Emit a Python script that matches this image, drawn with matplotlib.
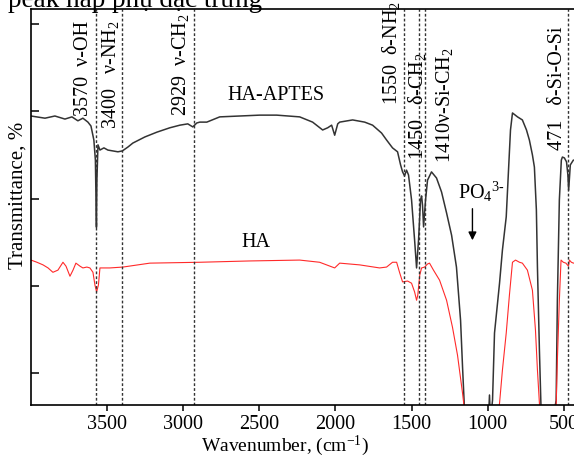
import matplotlib
matplotlib.use("Agg")
import matplotlib.pyplot as plt

plt.rcParams["font.family"] = ["Liberation Serif", "DejaVu Serif"]
plt.rcParams["mathtext.fontset"] = "custom"
plt.rcParams["mathtext.rm"] = "Liberation Serif"
plt.rcParams["mathtext.it"] = "Liberation Serif:italic"

# FTIR spectrum of HA-APTES (wavenumber, cm-1 / transmittance, a.u.)
apt_wn = [4000, 3908, 3843, 3777, 3731, 3692, 3659, 3626, 3606, 3587, 3577,
          3570, 3567, 3560, 3547, 3521, 3495, 3462, 3429, 3400, 3363, 3331,
          3252, 3173, 3088, 3022, 2970, 2937, 2911, 2891, 2845, 2760, 2629,
          2497, 2386, 2235, 2150, 2084, 2051, 2025, 2005, 1985, 1972, 1887,
          1808, 1756, 1697, 1664, 1625, 1592, 1572, 1559, 1546, 1533, 1520,
          1500, 1480, 1467, 1454, 1441, 1434, 1428, 1421, 1408, 1395, 1369,
          1336, 1303, 1270, 1237, 1205, 1178, 1165, 1152, 1100, 1021, 995,
          988, 982, 968, 955, 922, 903, 878, 863, 850, 837, 804, 772, 745,
          726, 706, 693, 680, 673, 660, 649, 607, 561, 550, 542, 529, 516,
          509, 496, 482, 473, 468, 457, 437, 398]
apt_t = [58.9, 58.4, 58.9, 58.2, 58.7, 57.8, 58.4, 57.5, 56.6, 53.4, 48.8,
         33.4, 44.2, 52.3, 51.1, 51.6, 51.1, 50.9, 50.7, 50.9, 51.8, 52.7,
         54.1, 55.2, 56.2, 56.8, 57.1, 56.4, 57.3, 57.5, 57.5, 58.7, 58.9,
         59.1, 59.1, 58.7, 57.5, 55.7, 56.2, 56.8, 54.5, 57.1, 57.5, 58.0,
         57.5, 56.8, 55.0, 53.4, 51.6, 50.7, 47.7, 46.1, 45.2, 46.5, 45.4,
         39.7, 30.5, 24.1, 30.5, 39.7, 40.6, 38.5, 33.5, 39.7, 44.2, 46.1,
         44.7, 41.5, 36.7, 31.6, 24.3, 12.1, 1.4, -8.5, -20.0, -15.0, -10.8,
         -5.0, -10.8, -6.2, 9.2, 20.6, 28.2, 35.8, 46.5, 55.7, 59.6, 58.7,
         58.0, 55.7, 53.4, 50.0, 47.2, 37.4, 24.3, 5.3, -8.5, -17.6, -8.5,
         -6.2, 16.7, 39.7, 48.8, 49.5, 49.3, 48.4, 45.4, 41.9, 47.7, 48.8, 48.8]

# FTIR spectrum of pure HA
ha_wn = [4000, 3961, 3921, 3888, 3856, 3823, 3790, 3770, 3744, 3724, 3705,
         3678, 3659, 3633, 3613, 3593, 3580, 3569, 3557, 3547, 3482, 3396,
         3219, 2891, 2563, 2235, 2104, 2005, 1972, 1841, 1710, 1664, 1625,
         1598, 1579, 1559, 1526, 1500, 1480, 1467, 1459, 1446, 1434, 1414,
         1395, 1382, 1356, 1316, 1270, 1231, 1198, 1165, 1152, 1054, 942,
         922, 903, 878, 857, 837, 817, 791, 772, 739, 706, 686, 673, 660,
         653, 607, 561, 550, 542, 529, 518, 503, 486, 469, 463, 450, 437, 398]
ha_t = [25.9, 25.4, 24.8, 24.1, 23.1, 23.6, 25.4, 24.5, 22.2, 23.6, 25.2,
        24.5, 24.1, 24.3, 24.1, 23.1, 20.2, 18.6, 20.2, 24.1, 24.1, 24.3,
        25.2, 25.4, 25.7, 25.9, 25.4, 24.1, 25.2, 24.8, 24.1, 24.3, 25.4,
        25.4, 23.1, 20.9, 21.1, 20.6, 18.6, 16.7, 17.9, 22.5, 24.1, 24.3,
        25.0, 25.2, 23.6, 21.3, 16.7, 10.5, 4.1, -4.6, -8.5, -17.6, -10.8,
        -6.9, 0.7, 9.2, 17.9, 25.4, 25.9, 25.4, 25.2, 23.6, 19.0, 9.9, 0.7,
        -6.9, -10.8, -17.6, -9.6, -7.3, 3.0, 16.7, 25.9, 25.4, 25.2, 24.5,
        25.9, 25.4, 25.2, 25.4]

# characteristic bands and their assignments
bands = [3570, 3400, 2929, 1550, 1450, 1410, 471]
band_labels = ["3570  ν-OH", "3400   ν-NH$_2$", "2929  ν-CH$_2$",
               "1550  δ-NH$_2$", "1450   δ-CH$_2$", "1410ν-Si-CH$_2$",
               "471   δ-Si-O-Si"]
band_text_y = [59.0, 56.0, 59.0, 61.4, 48.8, 48.1, 51.1]

# (shift in cm-1, horizontal alignment) of each band label
label_place = [(20, "right"), (12, "right"), (20, "right"), (10, "right"),
               (13, "center"), (-55, "left"), (10, "right")]

fig = plt.figure(figsize=(5.74, 4.59), dpi=100)
ax = fig.add_axes([0.054, 0.1176, 0.9547, 0.8627])

ax.plot(apt_wn, apt_t, color="#333333", lw=1.1)
ax.plot(ha_wn, ha_t, color="#ff2a2a", lw=0.8)

for wn, lab, ty, (dx, side) in zip(bands, band_labels, band_text_y,
                                   label_place):
    ax.axvline(wn, color="#333333", ls=(0, (2, 1.5)), lw=1.0)
    ax.text(wn + dx, ty, lab, rotation=90, ha=side, va="bottom",
            fontsize=14.5, color="black")

ax.text(2390, 61.5, "HA-APTES", ha="center", va="bottom", fontsize=14.5)
ax.text(2520, 27.7, "HA", ha="center", va="bottom", fontsize=14.5)
ax.text(1040, 38.8, "PO$_4$$^{3\\text{-}}$", ha="center", va="bottom",
        fontsize=14.5)
ax.annotate("", xy=(1100, 29.8), xytext=(1100, 38.3),
            arrowprops=dict(arrowstyle="-|>", color="black", lw=1.0,
                            mutation_scale=12))

ax.set_xlim(4000, 400)
ax.set_ylim(-7.3, 83.4)
ax.set_xticks([3500, 3000, 2500, 2000, 1500, 1000, 500])
ax.set_yticks([0, 20, 40, 60, 80])
ax.set_yticklabels([])
ax.tick_params(axis="x", direction="out", length=4, width=1.1,
               labelsize=14.5, pad=3)
ax.tick_params(axis="y", direction="in", length=6, width=1.1)
for s in ax.spines.values():
    s.set_linewidth(1.2)

ax.set_xlabel("Wavenumber, (cm$^{-1}$)", fontsize=14)
ax.xaxis.set_label_coords(0.463, -0.073)
ax.set_ylabel("Transmittance, %", fontsize=15)
ax.yaxis.set_label_coords(-0.006, 0.53)

# heading of the figure above the plot
fig.text(0.014, 0.985, "peak hấp phụ đặc trưng", ha="left", va="baseline",
         fontsize=19.5)

fig.savefig("out.png", dpi=100)
